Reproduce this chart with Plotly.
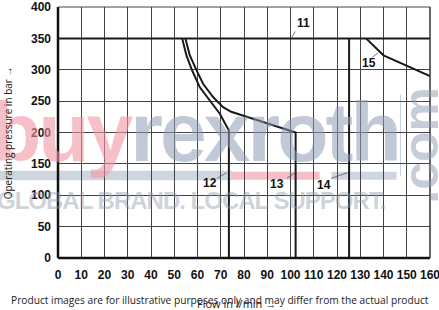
import plotly.graph_objects as go

# ---- data ----
x_ticks = list(range(0, 161, 10))
y_ticks = list(range(0, 401, 50))

c11_x = [0, 160]
c11_y = [350, 350]

c12_x = [73.5, 73.5, 69.6, 65.3, 61.0, 57.8, 55.3, 53.4]
c12_y = [0, 203, 230, 251, 272, 298, 322, 350]

c13_x = [102.2, 102.2, 74.5, 71.0, 66.7, 62.4, 59.6, 56.7, 54.8]
c13_y = [0, 200, 233, 240.5, 256.5, 277.7, 299, 322.7, 350]

c14_x = [125.2, 125.2]
c14_y = [0, 350]

c15_x = [132.5, 136.0, 140.0, 160.0]
c15_y = [350, 337, 323, 290]

labels = ["11", "12", "13", "14", "15"]
label_x = [105.4, 65.3, 94.2, 114.4, 133.7]
label_y = [375, 119, 118, 116, 311]
leader_x0 = [102.0, 68.5, 98.5, 117.5, 135.2]
leader_y0 = [361, 127, 127, 127, 320]
leader_x1 = [100.5, 72.5, 102.0, 124.5, 137.8]
leader_y1 = [351, 136, 136, 136, 327]

line_col = "#1a1a1a"
PL, PW = 58, 372.5   # plot left / width in px
PH = 251.5           # plot height in px


def py(pix):
    return (258 - pix) / PH


def px(pix):
    return (pix - PL) / PW


fig = go.Figure()

band_gray = "rgba(195,203,214,0.8)"
shapes = [
    dict(type="rect", xref="paper", yref="paper", x0=px(-2), x1=px(232), y0=py(180), y1=py(170.5),
         fillcolor=band_gray, line_width=0, layer="below"),
    dict(type="rect", xref="paper", yref="paper", x0=px(232), x1=px(320), y0=py(179.5), y1=py(171.5),
         fillcolor="rgba(243,184,195,0.9)", line_width=0, layer="below"),
    dict(type="rect", xref="paper", yref="paper", x0=px(332), x1=px(397), y0=py(179.5), y1=py(171.5),
         fillcolor=band_gray, line_width=0, layer="below"),
    dict(type="line", xref="paper", yref="paper", x0=px(401), x1=px(401), y0=py(176), y1=py(94),
         line=dict(color="rgba(170,180,195,0.6)", width=1), layer="below"),
]

for xs, ys in [(c11_x, c11_y), (c12_x, c12_y), (c13_x, c13_y), (c14_x, c14_y), (c15_x, c15_y)]:
    fig.add_trace(go.Scatter(x=xs, y=ys, mode="lines", line=dict(color=line_col, width=2),
                             hoverinfo="skip", showlegend=False))

for x0, y0, x1, y1 in zip(leader_x0, leader_y0, leader_x1, leader_y1):
    shapes.append(dict(type="line", xref="x", yref="y", x0=x0, y0=y0, x1=x1, y1=y1,
                       line=dict(color="#555555", width=0.8)))

ann = []

# watermark text
ann.append(dict(x=px(-12), y=py(132), xref="paper", yref="paper", xanchor="left", yanchor="middle",
                text="<b><span style='letter-spacing:-3px;color:rgba(240,150,165,0.6)'>buy</span>"
                     "<span style='letter-spacing:-3px;color:rgba(140,156,178,0.55)'>rexroth</span></b>",
                showarrow=False, font=dict(family="Liberation Sans, Arial", size=84)))
ann.append(dict(x=px(-5), y=py(200), xref="paper", yref="paper", xanchor="left", yanchor="middle",
                text="<b><span style='letter-spacing:-1px'>GLOBAL BRAND. LOCAL SUPPORT.</span></b>",
                showarrow=False,
                font=dict(family="Liberation Sans, Arial", size=24, color="rgba(145,155,172,0.45)")))
ann.append(dict(x=px(422), y=py(145), xref="paper", yref="paper", xanchor="center", yanchor="middle",
                text="<b>.com</b>", textangle=-90, showarrow=False,
                font=dict(family="Liberation Sans, Arial", size=50, color="rgba(140,156,178,0.5)")))

for t, lx, ly in zip(labels, label_x, label_y):
    ann.append(dict(x=lx, y=ly, xref="x", yref="y", text="<b>" + t + "</b>", showarrow=False,
                    font=dict(family="Liberation Sans, Arial", size=12, color="#111111")))

# axis titles and footer
ann.append(dict(x=px(8), y=py(133), xref="paper", yref="paper", xanchor="center", yanchor="middle",
                text="Operating pressure in bar →", textangle=-90, showarrow=False,
                font=dict(family="Open Sans, Arial", size=10, color="#222222")))
ann.append(dict(x=px(237), y=py(304), xref="paper", yref="paper", xanchor="center", yanchor="middle",
                text="Flow in l/min →", showarrow=False,
                font=dict(family="Open Sans, Arial", size=11, color="#222222")))
ann.append(dict(x=px(220), y=py(300), xref="paper", yref="paper", xanchor="center", yanchor="middle",
                text="Product images are for illustrative purposes only and may differ from the actual product",
                showarrow=False, font=dict(family="Open Sans, Arial", size=10.2, color="#222222")))

fig.update_layout(
    width=439, height=310,
    margin=dict(l=58, r=8.5, t=7, b=52, autoexpand=False),
    paper_bgcolor="white", plot_bgcolor="white",
    shapes=shapes, annotations=ann,
    xaxis=dict(range=[0, 160], tickvals=x_ticks, ticktext=["<b>%d</b>" % v for v in x_ticks],
               showgrid=True, gridcolor="#444444", gridwidth=1, zeroline=False, automargin=False,
               showline=False, ticks="", ticklabelstandoff=8, ticklabeloverflow="allow",
               tickfont=dict(family="Liberation Sans, Arial", size=12, color="#111111"), fixedrange=True),
    yaxis=dict(range=[0, 400], tickvals=y_ticks, ticktext=["<b>%d</b>" % v for v in y_ticks],
               showgrid=True, gridcolor="#444444", gridwidth=1, zeroline=False, automargin=False,
               showline=False, ticks="", ticklabelstandoff=6, ticklabeloverflow="allow",
               tickfont=dict(family="Liberation Sans, Arial", size=12, color="#111111"), fixedrange=True),
)

fig.add_shape(type="line", xref="paper", yref="paper", x0=0, x1=0, y0=0, y1=1, line=dict(color="#111111", width=2.5))
fig.add_shape(type="line", xref="paper", yref="paper", x0=0, x1=1, y0=0, y1=0, line=dict(color="#111111", width=2.5))
fig.add_shape(type="line", xref="paper", yref="paper", x0=1, x1=1, y0=0, y1=1, line=dict(color="#333333", width=1.5))
fig.add_shape(type="line", xref="paper", yref="paper", x0=0, x1=1, y0=1, y1=1, line=dict(color="#444444", width=1))

fig.write_html("out.html")
